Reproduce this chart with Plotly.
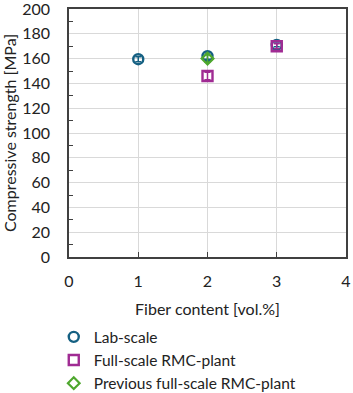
import plotly.graph_objects as go

lab_x = [1, 2, 3]
lab_y = [159.5, 162, 171]
lab_err = [2, 2.5, 1.5]

full_x = [2, 3]
full_y = [146, 170]
full_err = [3, 2]

prev_x = [2]
prev_y = [160]
prev_err = [3]

font = "Lato, Noto Sans, sans-serif"
blue = "#156082"
mag = "#A02B93"
green = "#4EA72E"

fig = go.Figure()
fig.add_trace(go.Scatter(
    x=lab_x, y=lab_y, mode="markers", name="Lab-scale",
    marker=dict(symbol="circle-open", size=10, color=blue, line=dict(width=2.4)),
    error_y=dict(type="data", array=lab_err, color=blue, thickness=1.5, width=3),
))
fig.add_trace(go.Scatter(
    x=full_x, y=full_y, mode="markers", name="Full-scale RMC-plant",
    marker=dict(symbol="square-open", size=10, color=mag, line=dict(width=2.4)),
    error_y=dict(type="data", array=full_err, color=mag, thickness=1.5, width=3),
))
fig.add_trace(go.Scatter(
    x=prev_x, y=prev_y, mode="markers", name="Previous full-scale RMC-plant",
    marker=dict(symbol="diamond-open", size=9, color=green, line=dict(width=2.2)),
    error_y=dict(type="data", array=prev_err, color=green, thickness=1.5, width=3),
))

fig.update_layout(
    width=353, height=393,
    margin=dict(l=69, r=7, t=9, b=136, autoexpand=False),
    paper_bgcolor="white", plot_bgcolor="white",
    font=dict(family=font, size=16, color="#222"),
    showlegend=True,
    legend=dict(x=-0.055, y=0.185, xref="paper", yref="container",
                xanchor="left", yanchor="top",
                font=dict(size=15.5, family=font), tracegroupgap=0, itemwidth=30),
    xaxis=dict(range=[0, 4], dtick=1, showgrid=True, gridcolor="#d9d9d9",
               showline=True, linecolor="#404040", linewidth=1.5, mirror=True,
               ticks="inside", ticklen=5, tickcolor="#404040", zeroline=False,
               ticklabelstandoff=9, ticklabeloverflow="allow", automargin=False,
               title=dict(text="Fiber content [vol.%]", font=dict(size=16), standoff=15)),
    yaxis=dict(range=[0, 200], dtick=20, showgrid=True, gridcolor="#d9d9d9",
               showline=True, linecolor="#404040", linewidth=1.5, mirror=True,
               ticks="", zeroline=False, ticklabelstandoff=14,
               ticklabeloverflow="allow", automargin=False,
               minor=dict(dtick=10, ticks="inside", ticklen=4, tickcolor="#404040", showgrid=False),
               title=dict(text="Compressive strength [MPa]", font=dict(size=16), standoff=4)),
)

fig.write_html("out.html", config={"displayModeBar": False},
               post_script="document.body.style.margin='0';")
